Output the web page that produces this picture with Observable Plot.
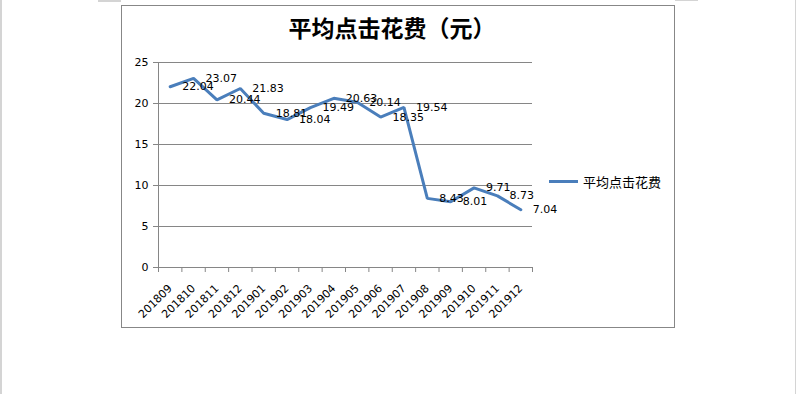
<!DOCTYPE html>
<html>
<head>
<meta charset="utf-8">
<script src="https://cdn.jsdelivr.net/npm/d3@7"></script>
<script src="https://cdn.jsdelivr.net/npm/@observablehq/plot@0.6"></script>
<style>
  html, body { margin: 0; padding: 0; background: #fff; }
  #wrap { position: relative; width: 796px; height: 394px; overflow: hidden; }
  .abs { position: absolute; }
  #title { left: 0; width: 784px; top: 16px; text-align: center; font-family: "Noto Sans CJK SC", sans-serif; font-weight: 700; font-size: 23px; line-height: 1; color: #000; }
  #legend { left: 549px; top: 172px; height: 18px; display: flex; align-items: center; font-family: "Noto Sans CJK SC", sans-serif; font-size: 13px; color: #000; }
  #legend .sw { width: 29px; height: 3px; background: #4a7ebb; margin-right: 5px; }
</style>
</head>
<body>
<div id="wrap">
  <div class="abs" style="left:0;top:0;width:2px;height:394px;background:#d4d4d4"></div>
  <div class="abs" style="left:795px;top:0;width:1px;height:394px;background:#d4d4d4"></div>
  <div class="abs" style="left:98px;top:0;width:23px;height:2px;background:#d4d4d4"></div>
  <div class="abs" style="left:675px;top:0;width:23px;height:1px;background:#d4d4d4"></div>
  <div class="abs" style="left:121px;top:5px;width:552px;height:321px;border:1px solid #878787"></div>
  <div id="chart" class="abs" style="left:0;top:0"></div>
  <div id="title" class="abs">平均点击花费（元）</div>
  <div id="legend" class="abs"><div class="sw"></div><span>平均点击花费</span></div>
</div>
<script>
const months = ["201809","201810","201811","201812","201901","201902","201903","201904","201905","201906","201907","201908","201909","201910","201911","201912"];
const values = [22.04, 23.07, 20.44, 21.83, 18.81, 18.04, 19.49, 20.63, 20.14, 18.35, 19.54, 8.43, 8.01, 9.71, 8.73, 7.04];
const yTicks = [0, 5, 10, 15, 20, 25];
const seriesName = "平均点击花费";

const idx = months.map((m, i) => i);
const bounds = d3.range(-0.5, months.length, 1);
const gray = "#868686";

const chart = Plot.plot({
  width: 796,
  height: 394,
  marginLeft: 158,
  marginRight: 264,
  marginTop: 62,
  marginBottom: 127,
  x: { type: "linear", domain: [-0.5, months.length - 0.5] },
  y: { domain: [0, 25] },
  style: { fontFamily: "DejaVu Sans", fontSize: "11px", color: "#000", background: "transparent", overflow: "visible" },
  marks: [
    Plot.gridY(yTicks.filter(t => t > 0), { stroke: gray, strokeOpacity: 1 }),
    Plot.ruleY([0], { stroke: gray }),
    Plot.ruleX([-0.5], { stroke: gray }),
    Plot.axisY({ ticks: yTicks, tickSize: 5, tickPadding: 5, stroke: gray, strokeOpacity: 1, label: null, fontSize: 11 }),
    Plot.axisX({ ticks: bounds, tickSize: 5, tickFormat: () => "", stroke: gray, strokeOpacity: 1, label: null }),
    Plot.axisX({ ticks: idx, tickSize: 0, tickPadding: 19, tickRotate: -45, tickFormat: i => months[i], label: null, fontSize: 11 }),
    Plot.lineY(values, { x: (d, i) => i, y: d => d, stroke: "#4a7ebb", strokeWidth: 3, strokeLinejoin: "miter" }),
    Plot.text(values, { x: (d, i) => i, y: d => d, text: d => d.toFixed(2), textAnchor: "start", dx: 12, fill: "#000", fontSize: 11 })
  ]
});
document.getElementById("chart").appendChild(chart);
</script>
</body>
</html>
